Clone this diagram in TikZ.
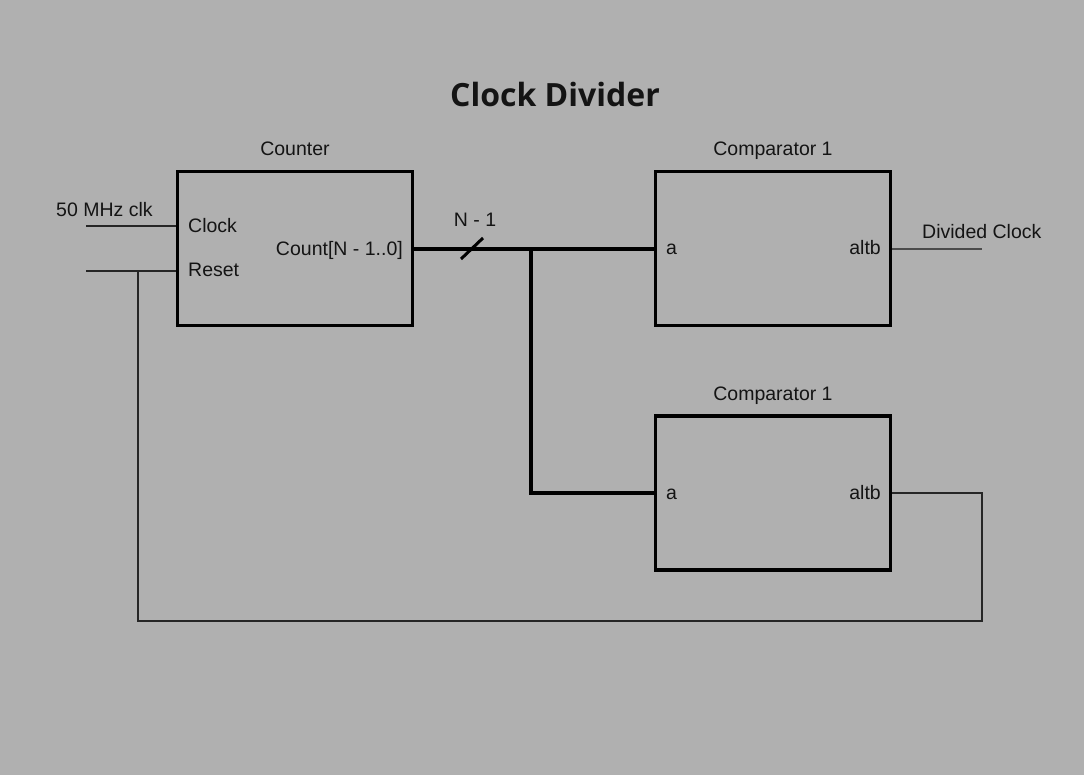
\documentclass[tikz,border=0pt]{standalone}
\usepackage{fontspec}
\setmainfont{Liberation Sans}
\newfontfamily\titlefont{Open Sans}
\definecolor{bg}{HTML}{B0B0B0}
\definecolor{ink}{HTML}{141414}
\begin{document}
\begin{tikzpicture}[x=1pt,y=-1pt,
  blockbox/.style={draw=black,line width=3.4pt,minimum width=235pt,minimum height=154pt,inner sep=0pt},
  lbl/.style={font=\fontsize{19.5}{22}\selectfont,text=ink,inner sep=0pt},
  bus/.style={line width=3.6pt,black},
  thinwire/.style={line width=1.1pt,black!85},
  lightwire/.style={line width=1.1pt,black!70}]
\fill[bg] (0,0) rectangle (1084,775);
\useasboundingbox (0,0) rectangle (1084,775);
% title
\node[lbl,anchor=base,font=\titlefont\bfseries\fontsize{32}{36}\selectfont] (title) at (555,107) {Clock Divider};
% blocks
\node[blockbox] (cnt) at (295,248.5) {};
\node[blockbox] (cmpA) at (773,248.5) {};
\node[blockbox] (cmpB) at (773,493) {};
\node[lbl,anchor=base] (cntl) at (295,156) {Counter};
\node[lbl,anchor=base] (cmpAl) at (773,156) {Comparator 1};
\node[lbl,anchor=base] (cmpBl) at (773,400) {Comparator 1};
% port labels
\node[lbl,anchor=base west] (clkp) at (188,233) {Clock};
\node[lbl,anchor=base west] (rstp) at (188,277) {Reset};
\node[lbl,anchor=base east] (cntp) at (403,256) {Count[N - 1..0]};
\node[lbl,anchor=base west] (aA) at (666,255) {a};
\node[lbl,anchor=base east] (oA) at (881,255) {altb};
\node[lbl,anchor=base west] (aB) at (666,499) {a};
\node[lbl,anchor=base east] (oB) at (881,499) {altb};
% external labels
\node[lbl,anchor=base west] (clkin) at (56,217) {50 MHz clk};
\node[lbl,anchor=base west] (divl) at (922,239) {Divided Clock};
\node[lbl,anchor=base] (busl) at (475,227) {N - 1};
% coordinates
\coordinate (clkS) at (86,226);
\coordinate (rstS) at (86,271);
\coordinate (rstJ) at (138,271);
\coordinate (fbBL) at (138,621);
\coordinate (fbBR) at (982,621);
\coordinate (fbTR) at (982,493);
\coordinate (divE) at (982,249);
\coordinate (br) at (531,249);
\coordinate (brB) at (531,493);
\coordinate (sl1) at (461,259);
\coordinate (sl2) at (483,238);
% wires
\draw[thinwire] (clkS) -- (clkS -| cnt.west);
\draw[thinwire] (rstS) -- (rstS -| cnt.west);
\draw[thinwire] (rstJ) -- (fbBL) -- (fbBR) -- (fbTR) -- (fbTR -| cmpB.east);
\draw[lightwire] (cmpA.east |- divE) -- (divE);
\draw[bus] (cnt.east |- br) -- (cmpA.west |- br);
\draw[bus] (br) -- (brB) -- (brB -| cmpB.west);
\draw[bus,line width=3pt] (sl1) -- (sl2);
\end{tikzpicture}
\end{document}
